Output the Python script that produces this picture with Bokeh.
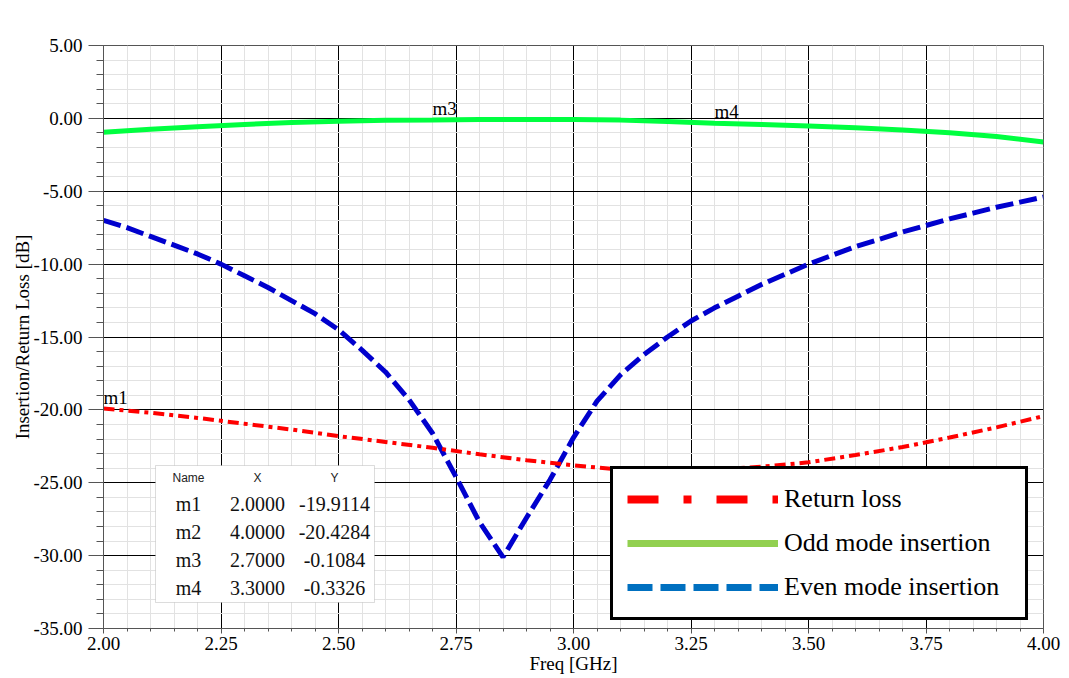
from bokeh.plotting import figure
from bokeh.models import (Range1d, SingleIntervalTicker, NumeralTickFormatter,
                          Legend, LegendItem, Label, BoxAnnotation)
from bokeh.embed import file_html
from bokeh.resources import INLINE

# ---- data -----------------------------------------------------------------
freq_coarse = [2.0, 2.1, 2.2, 2.3, 2.4, 2.5, 2.6, 2.7, 2.8, 2.9, 3.0,
               3.1, 3.2, 3.3, 3.4, 3.5, 3.6, 3.7, 3.8, 3.9, 4.0]

return_loss = [-19.91, -20.20, -20.55, -20.95, -21.35, -21.80, -22.20, -22.60,
               -23.05, -23.45, -23.80, -24.10, -24.20, -24.10, -23.90, -23.60,
               -23.10, -22.55, -21.90, -21.20, -20.43]

odd_mode = [-0.96, -0.75, -0.57, -0.42, -0.28, -0.19, -0.13, -0.108, -0.08,
            -0.07, -0.07, -0.12, -0.22, -0.333, -0.42, -0.52, -0.64, -0.79,
            -0.98, -1.25, -1.62]

freq_fine = [2.00, 2.05, 2.10, 2.15, 2.20, 2.25, 2.30, 2.35, 2.40, 2.45,
             2.50, 2.55, 2.60, 2.65, 2.70, 2.75, 2.80, 2.85, 2.90, 2.95,
             3.00, 3.05, 3.10, 3.15, 3.20, 3.25, 3.30, 3.35, 3.40, 3.45,
             3.50, 3.55, 3.60, 3.65, 3.70, 3.75, 3.80, 3.85, 3.90, 3.95, 4.00]

even_mode = [-7.0, -7.5, -8.1, -8.7, -9.3, -10.0, -10.8, -11.6, -12.5, -13.4,
             -14.5, -15.9, -17.4, -19.3, -21.6, -24.6, -27.7, -30.1, -27.4, -24.8,
             -21.9, -19.4, -17.6, -16.2, -15.0, -13.9, -13.0, -12.2, -11.4, -10.7,
             -10.0, -9.4, -8.8, -8.3, -7.8, -7.35, -6.9, -6.5, -6.1, -5.75, -5.4]

marker_names = ["m1", "m2", "m3", "m4"]
marker_freq = [2.0, 4.0, 2.7, 3.3]
marker_db = [-19.9114, -20.4284, -0.1084, -0.3326]

series_labels = ["Return loss", "Odd mode insertion", "Even mode insertion"]

X_MIN, X_MAX = 2.0, 4.0
Y_MIN, Y_MAX = -35.0, 5.0

# ---- layout helpers (frame pixel geometry -> data units) -------------------
FRAME_LEFT, FRAME_TOP, FRAME_W, FRAME_H = 103, 45, 940, 583


def fx(px):
    return X_MIN + (px - FRAME_LEFT) * (X_MAX - X_MIN) / FRAME_W


def fy(py):
    return Y_MAX - (py - FRAME_TOP) * (Y_MAX - Y_MIN) / FRAME_H


SERIF = "Liberation Serif"
SANS = "Liberation Sans"

p = figure(width=1069, height=678, output_backend="svg", toolbar_location=None,
           x_range=Range1d(X_MIN, X_MAX), y_range=Range1d(Y_MIN, Y_MAX),
           min_border_left=FRAME_LEFT, min_border_right=26,
           min_border_top=FRAME_TOP, min_border_bottom=50)

p.background_fill_color = "white"
p.border_fill_color = "white"
p.outline_line_color = "#555555"

# ---- axes -----------------------------------------------------------------
p.xaxis.ticker = SingleIntervalTicker(interval=0.25, num_minor_ticks=5)
p.yaxis.ticker = SingleIntervalTicker(interval=5, num_minor_ticks=5)
p.xaxis.formatter = NumeralTickFormatter(format="0.00")
p.yaxis.formatter = NumeralTickFormatter(format="0.00")

for ax in (p.xaxis, p.yaxis):
    ax.axis_line_color = "#555555"
    ax.major_tick_line_color = "#555555"
    ax.minor_tick_line_color = "#555555"
    ax.major_tick_in = 0
    ax.minor_tick_in = 0
    ax.major_label_text_font = SERIF
    ax.major_label_text_font_size = "19px"
    ax.major_label_text_color = "black"
    ax.axis_label_text_font = SERIF
    ax.axis_label_text_font_size = "19px"
    ax.axis_label_text_font_style = "normal"
    ax.axis_label_text_color = "black"

p.xaxis.axis_label = "Freq [GHz]"
p.xaxis.major_tick_out = 5
p.xaxis.minor_tick_out = 3
p.xaxis.major_label_standoff = 3
p.xaxis.axis_label_standoff = 0

p.yaxis.axis_label = "Insertion/Return Loss [dB]"
p.yaxis.major_tick_out = 15
p.yaxis.minor_tick_out = 7
p.yaxis.major_label_standoff = 6
p.yaxis.axis_label_standoff = -3

# ---- grid -----------------------------------------------------------------
for g in (p.xgrid, p.ygrid):
    g.grid_line_color = "black"
    g.grid_line_alpha = 1.0
    g.minor_grid_line_color = "#e2e2e2"

# ---- curves ---------------------------------------------------------------
p.line(freq_coarse, odd_mode, line_color="#00ff40", line_width=5)
p.line(freq_fine, even_mode, line_color="#0000cd", line_width=5,
       line_dash="18 6")
p.line(freq_coarse, return_loss, line_color="#ff0000", line_width=4,
       line_dash="11 5 4 5")

# ---- markers --------------------------------------------------------------
for name, f, db in zip(marker_names, marker_freq, marker_db):
    p.add_layout(Label(x=f, y=db, text=name, text_font=SERIF,
                       text_font_size="19px", text_color="black",
                       text_align="left", text_baseline="bottom",
                       y_offset=1))

# ---- marker table -----------------------------------------------------------
p.add_layout(BoxAnnotation(left=fx(155), right=fx(374), top=fy(465),
                           bottom=fy(602), fill_color="white", fill_alpha=1,
                           line_color="#8a8a8a", line_width=1))

col_x = [fx(188), fx(257), fx(334)]
for text, cx in zip(["Name", "X", "Y"], col_x):
    p.add_layout(Label(x=cx, y=fy(477), text=text, text_font=SANS,
                       text_font_size="12px", text_color="#222222",
                       text_align="center", text_baseline="middle"))

for i, (name, f, db) in enumerate(zip(marker_names, marker_freq, marker_db)):
    row_y = fy(503 + 28.2 * i)
    cells = [name, f"{f:.4f}", f"{db:.4f}"]
    for text, cx in zip(cells, col_x):
        p.add_layout(Label(x=cx, y=row_y, text=text, text_font=SERIF,
                           text_font_size="20px", text_color="#111111",
                           text_align="center", text_baseline="middle"))

# ---- legend -----------------------------------------------------------------
# swatch-only renderers: a single NaN point keeps them off the plot area
nan = float("nan")
r_rl = p.line([nan], [nan], line_color="#ff0000", line_width=8,
              line_dash="31 25 8 25")
r_odd = p.line([nan], [nan], line_color="#92d050", line_width=7)
r_even = p.line([nan], [nan], line_color="#0070c0", line_width=7,
                line_dash="25 8")

legend = Legend(
    items=[LegendItem(label=series_labels[0], renderers=[r_rl]),
           LegendItem(label=series_labels[1], renderers=[r_odd]),
           LegendItem(label=series_labels[2], renderers=[r_even])],
    location=(507, 8), margin=0, padding=14, spacing=12,
    glyph_width=151, glyph_height=30, label_height=32, label_width=227,
    label_standoff=6, label_text_font=SERIF, label_text_font_size="26px",
    label_text_color="black", label_text_baseline="middle",
    border_line_color="black", border_line_width=3, border_line_alpha=1,
    background_fill_color="white", background_fill_alpha=1)
p.add_layout(legend)

open("out.html", "w").write(file_html(p, INLINE))
